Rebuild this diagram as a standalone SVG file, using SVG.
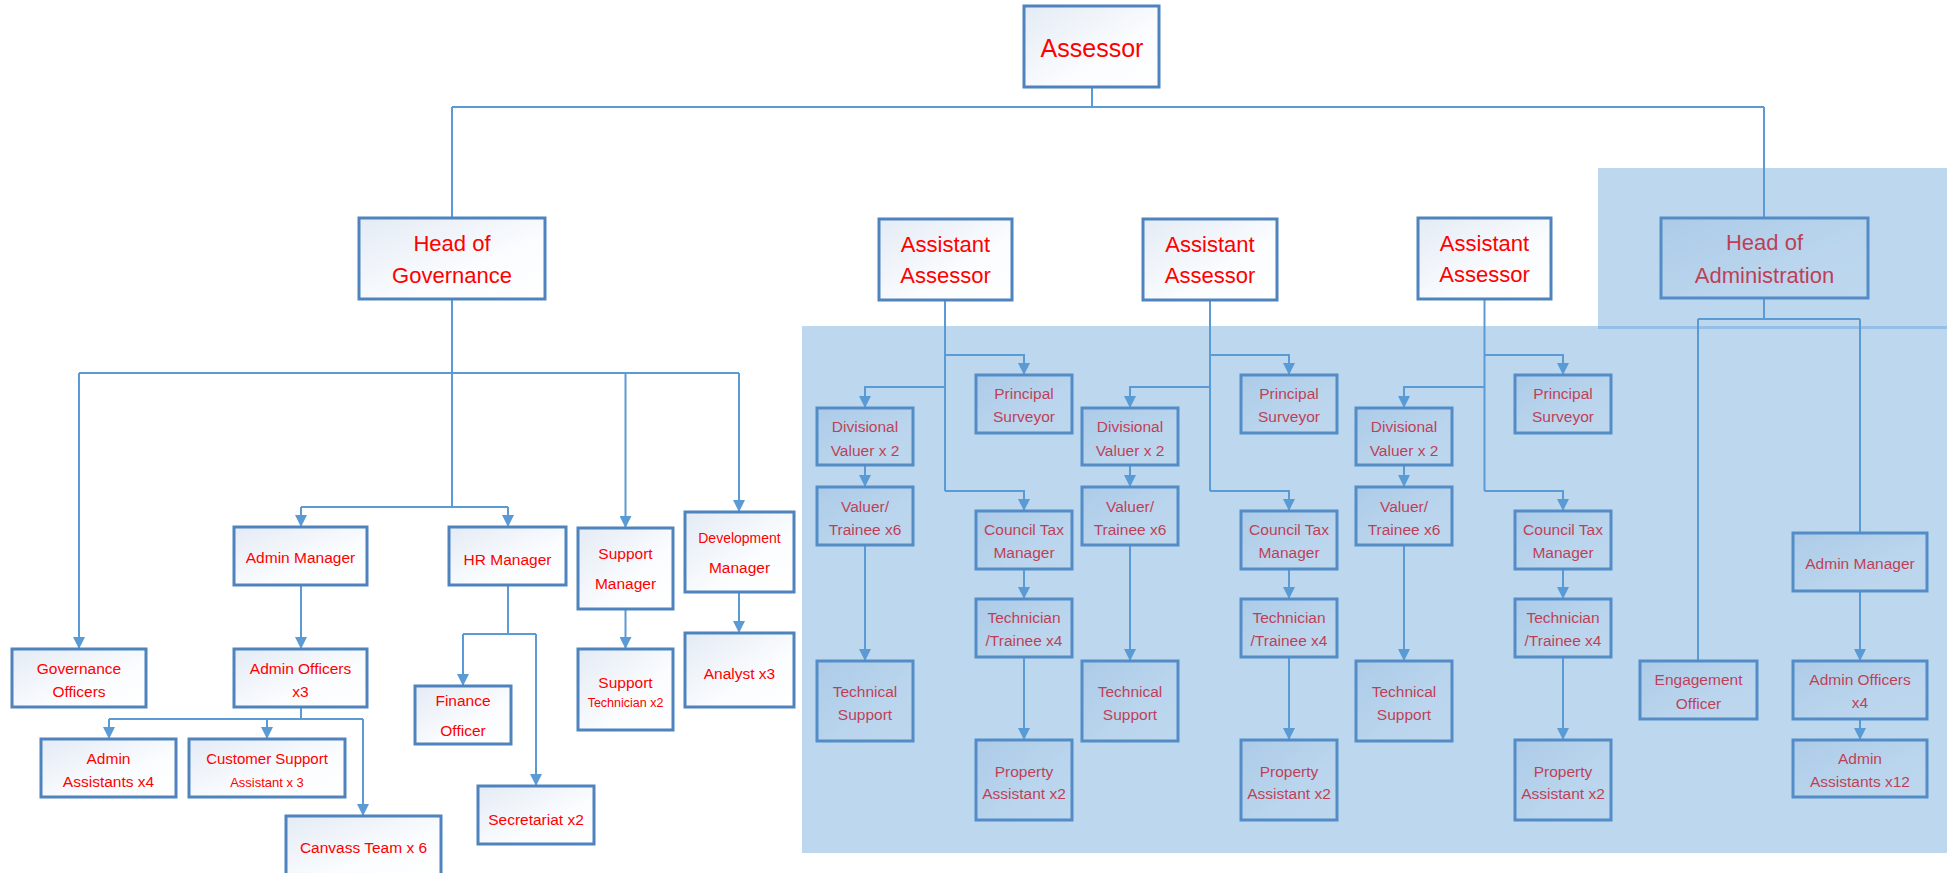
<svg xmlns="http://www.w3.org/2000/svg" width="1957" height="873" viewBox="0 0 1957 873">
<defs>
<linearGradient id="bx" x1="0" y1="0" x2="1" y2="1">
<stop offset="0" stop-color="#E4EBF5"/>
<stop offset="0.6" stop-color="#FAFCFE"/>
<stop offset="1" stop-color="#FFFFFF"/>
</linearGradient>
<marker id="ar" viewBox="0 0 12 12" refX="12" refY="6" markerWidth="12" markerHeight="12" markerUnits="userSpaceOnUse" orient="auto">
<path d="M0,0 L12,6 L0,12 Z" fill="#5B9BD5"/>
</marker>
<style>
.b{fill:url(#bx);stroke:#4F83BE;stroke-width:3}
.t{font-family:"Liberation Sans",Arial,sans-serif;fill:#FF0000;text-anchor:middle}
.h{font-size:22px}
.m{font-size:15.5px}
.s{font-size:15px}
.xs{font-size:12.5px}
.c{fill:none;stroke:#5B9BD5;stroke-width:2}
.a{fill:none;stroke:#5B9BD5;stroke-width:2;marker-end:url(#ar)}
.ov{fill:#5B9BD5;fill-opacity:0.4}
</style>
</defs>
<rect width="1957" height="873" fill="#FFFFFF"/>

<g id="connectors">
<path class="c" d="M1092,87 V107 M452,107 H1764 M452,107 V218 M1764,107 V218"/>
<path class="c" d="M452,299 V507 M79,373 H739 M301,507 H508"/>
<path class="a" d="M79,373 V649"/>
<path class="a" d="M625.5,373 V528"/>
<path class="a" d="M739,373 V512"/>
<path class="a" d="M301,507 V527"/>
<path class="a" d="M508,507 V527"/>
<path class="a" d="M301,585 V649"/>
<path class="c" d="M301,707 V719 M109,719 H363"/>
<path class="a" d="M109,719 V739"/>
<path class="a" d="M267,719 V739"/>
<path class="a" d="M363,719 V816"/>
<path class="c" d="M508,585 V634 M463,634 H536"/>
<path class="a" d="M463,634 V686"/>
<path class="a" d="M536,634 V786"/>
<path class="a" d="M625.5,609 V649"/>
<path class="a" d="M739,592 V633"/>
<!-- AA1 -->
<path class="c" d="M945,300 V491"/>
<path class="a" d="M945,355 H1024 V375"/>
<path class="a" d="M945,387 H865 V408"/>
<path class="a" d="M945,491 H1024 V511"/>
<path class="a" d="M865,465 V487"/>
<path class="a" d="M865,545 V661"/>
<path class="a" d="M1024,569 V599"/>
<path class="a" d="M1024,657 V740"/>
<!-- AA2 -->
<path class="c" d="M1210,300 V491"/>
<path class="a" d="M1210,355 H1289 V375"/>
<path class="a" d="M1210,387 H1130 V408"/>
<path class="a" d="M1210,491 H1289 V511"/>
<path class="a" d="M1130,465 V487"/>
<path class="a" d="M1130,545 V661"/>
<path class="a" d="M1289,569 V599"/>
<path class="a" d="M1289,657 V740"/>
<!-- AA3 -->
<path class="c" d="M1484.5,299 V491"/>
<path class="a" d="M1484.5,355 H1563 V375"/>
<path class="a" d="M1484.5,387 H1404 V408"/>
<path class="a" d="M1484.5,491 H1563 V511"/>
<path class="a" d="M1404,465 V487"/>
<path class="a" d="M1404,545 V661"/>
<path class="a" d="M1563,569 V599"/>
<path class="a" d="M1563,657 V740"/>
<!-- Head of Admin -->
<path class="c" d="M1764,298 V319 M1698,319 H1860 M1698,319 V661 M1860,319 V533"/>
<path class="a" d="M1860,591 V661"/>
<path class="a" d="M1860,719 V740"/>
</g>

<g id="assessor"><rect class="b" x="1024" y="6" width="135" height="81"/><text class="t" x="1092" y="57" font-size="25">Assessor</text></g>
<g id="head-governance"><rect class="b" x="359" y="218" width="186" height="81"/><text class="t h" x="452" y="251">Head of</text><text class="t h" x="452" y="283">Governance</text></g>
<g id="assistant-assessor-1"><rect class="b" x="879" y="219" width="133" height="81"/><text class="t h" x="945.5" y="252">Assistant</text><text class="t h" x="945.5" y="283">Assessor</text></g>
<g id="assistant-assessor-2"><rect class="b" x="1143" y="219" width="134" height="81"/><text class="t h" x="1210" y="252">Assistant</text><text class="t h" x="1210" y="283">Assessor</text></g>
<g id="assistant-assessor-3"><rect class="b" x="1418" y="218" width="133" height="81"/><text class="t h" x="1484.5" y="251">Assistant</text><text class="t h" x="1484.5" y="282">Assessor</text></g>
<g id="head-administration"><rect class="b" x="1661" y="218" width="207" height="80"/><text class="t h" x="1764.5" y="250">Head of</text><text class="t h" x="1764.5" y="283">Administration</text></g>

<g id="governance-officers"><rect class="b" x="12" y="649" width="134" height="58"/><text class="t m" x="79" y="674">Governance</text><text class="t m" x="79" y="697">Officers</text></g>
<g id="admin-manager"><rect class="b" x="234" y="527" width="133" height="58"/><text class="t m" x="300.5" y="563">Admin Manager</text></g>
<g id="hr-manager"><rect class="b" x="449" y="527" width="117" height="58"/><text class="t m" x="507.5" y="565">HR Manager</text></g>
<g id="support-manager"><rect class="b" x="578" y="528" width="95" height="81"/><text class="t m" x="625.5" y="559">Support</text><text class="t m" x="625.5" y="589">Manager</text></g>
<g id="development-manager"><rect class="b" x="685" y="512" width="109" height="80"/><text class="t" x="739.5" y="543" font-size="14">Development</text><text class="t m" x="739.5" y="573">Manager</text></g>
<g id="admin-officers-3"><rect class="b" x="234" y="649" width="133" height="58"/><text class="t m" x="300.5" y="674">Admin Officers</text><text class="t m" x="300.5" y="697">x3</text></g>
<g id="support-technician"><rect class="b" x="578" y="649" width="95" height="81"/><text class="t m" x="625.5" y="688">Support</text><text class="t xs" x="625.5" y="707">Technician x2</text></g>
<g id="analyst"><rect class="b" x="685" y="633" width="109" height="74"/><text class="t m" x="739.5" y="679">Analyst x3</text></g>
<g id="finance-officer"><rect class="b" x="415" y="686" width="96" height="58"/><text class="t m" x="463" y="706">Finance</text><text class="t m" x="463" y="736">Officer</text></g>
<g id="secretariat"><rect class="b" x="478" y="786" width="116" height="58"/><text class="t m" x="536" y="825">Secretariat x2</text></g>
<g id="admin-assistants-4"><rect class="b" x="41" y="739" width="135" height="58"/><text class="t m" x="108.5" y="764">Admin</text><text class="t m" x="108.5" y="787">Assistants x4</text></g>
<g id="customer-support"><rect class="b" x="189" y="739" width="156" height="58"/><text class="t s" x="267" y="764">Customer Support</text><text class="t" x="267" y="787" font-size="13">Assistant x 3</text></g>
<g id="canvass-team"><rect class="b" x="286" y="816" width="155" height="62"/><text class="t m" x="363.5" y="853">Canvass Team x 6</text></g>

<g id="divisional-valuer-1"><rect class="b" x="817" y="408" width="96" height="57"/><text class="t m" x="865" y="432">Divisional</text><text class="t m" x="865" y="456">Valuer x 2</text></g>
<g id="valuer-trainee-1"><rect class="b" x="817" y="487" width="96" height="58"/><text class="t m" x="865" y="512">Valuer/</text><text class="t m" x="865" y="535">Trainee x6</text></g>
<g id="technical-support-1"><rect class="b" x="817" y="661" width="96" height="80"/><text class="t m" x="865" y="697">Technical</text><text class="t m" x="865" y="720">Support</text></g>
<g id="principal-surveyor-1"><rect class="b" x="976" y="375" width="96" height="58"/><text class="t m" x="1024" y="399">Principal</text><text class="t m" x="1024" y="422">Surveyor</text></g>
<g id="council-tax-1"><rect class="b" x="976" y="511" width="96" height="58"/><text class="t m" x="1024" y="535">Council Tax</text><text class="t m" x="1024" y="558">Manager</text></g>
<g id="technician-1"><rect class="b" x="976" y="599" width="96" height="58"/><text class="t m" x="1024" y="623">Technician</text><text class="t m" x="1024" y="646">/Trainee x4</text></g>
<g id="property-1"><rect class="b" x="976" y="740" width="96" height="80"/><text class="t m" x="1024" y="777">Property</text><text class="t m" x="1024" y="799">Assistant x2</text></g>

<g id="divisional-valuer-2"><rect class="b" x="1082" y="408" width="96" height="57"/><text class="t m" x="1130" y="432">Divisional</text><text class="t m" x="1130" y="456">Valuer x 2</text></g>
<g id="valuer-trainee-2"><rect class="b" x="1082" y="487" width="96" height="58"/><text class="t m" x="1130" y="512">Valuer/</text><text class="t m" x="1130" y="535">Trainee x6</text></g>
<g id="technical-support-2"><rect class="b" x="1082" y="661" width="96" height="80"/><text class="t m" x="1130" y="697">Technical</text><text class="t m" x="1130" y="720">Support</text></g>
<g id="principal-surveyor-2"><rect class="b" x="1241" y="375" width="96" height="58"/><text class="t m" x="1289" y="399">Principal</text><text class="t m" x="1289" y="422">Surveyor</text></g>
<g id="council-tax-2"><rect class="b" x="1241" y="511" width="96" height="58"/><text class="t m" x="1289" y="535">Council Tax</text><text class="t m" x="1289" y="558">Manager</text></g>
<g id="technician-2"><rect class="b" x="1241" y="599" width="96" height="58"/><text class="t m" x="1289" y="623">Technician</text><text class="t m" x="1289" y="646">/Trainee x4</text></g>
<g id="property-2"><rect class="b" x="1241" y="740" width="96" height="80"/><text class="t m" x="1289" y="777">Property</text><text class="t m" x="1289" y="799">Assistant x2</text></g>

<g id="divisional-valuer-3"><rect class="b" x="1356" y="408" width="96" height="57"/><text class="t m" x="1404" y="432">Divisional</text><text class="t m" x="1404" y="456">Valuer x 2</text></g>
<g id="valuer-trainee-3"><rect class="b" x="1356" y="487" width="96" height="58"/><text class="t m" x="1404" y="512">Valuer/</text><text class="t m" x="1404" y="535">Trainee x6</text></g>
<g id="technical-support-3"><rect class="b" x="1356" y="661" width="96" height="80"/><text class="t m" x="1404" y="697">Technical</text><text class="t m" x="1404" y="720">Support</text></g>
<g id="principal-surveyor-3"><rect class="b" x="1515" y="375" width="96" height="58"/><text class="t m" x="1563" y="399">Principal</text><text class="t m" x="1563" y="422">Surveyor</text></g>
<g id="council-tax-3"><rect class="b" x="1515" y="511" width="96" height="58"/><text class="t m" x="1563" y="535">Council Tax</text><text class="t m" x="1563" y="558">Manager</text></g>
<g id="technician-3"><rect class="b" x="1515" y="599" width="96" height="58"/><text class="t m" x="1563" y="623">Technician</text><text class="t m" x="1563" y="646">/Trainee x4</text></g>
<g id="property-3"><rect class="b" x="1515" y="740" width="96" height="80"/><text class="t m" x="1563" y="777">Property</text><text class="t m" x="1563" y="799">Assistant x2</text></g>

<g id="engagement-officer"><rect class="b" x="1640" y="661" width="117" height="58"/><text class="t m" x="1698.5" y="685">Engagement</text><text class="t m" x="1698.5" y="709">Officer</text></g>
<g id="admin-manager-2"><rect class="b" x="1793" y="533" width="134" height="58"/><text class="t m" x="1860" y="569">Admin Manager</text></g>
<g id="admin-officers-4"><rect class="b" x="1793" y="661" width="134" height="58"/><text class="t m" x="1860" y="685">Admin Officers</text><text class="t m" x="1860" y="708">x4</text></g>
<g id="admin-assistants-12"><rect class="b" x="1793" y="740" width="134" height="57"/><text class="t m" x="1860" y="764">Admin</text><text class="t m" x="1860" y="787">Assistants x12</text></g>

<g id="overlays">
<rect class="ov" x="1598" y="168" width="349" height="161"/>
<rect class="ov" x="802" y="326" width="1145" height="527"/>
</g>
</svg>
